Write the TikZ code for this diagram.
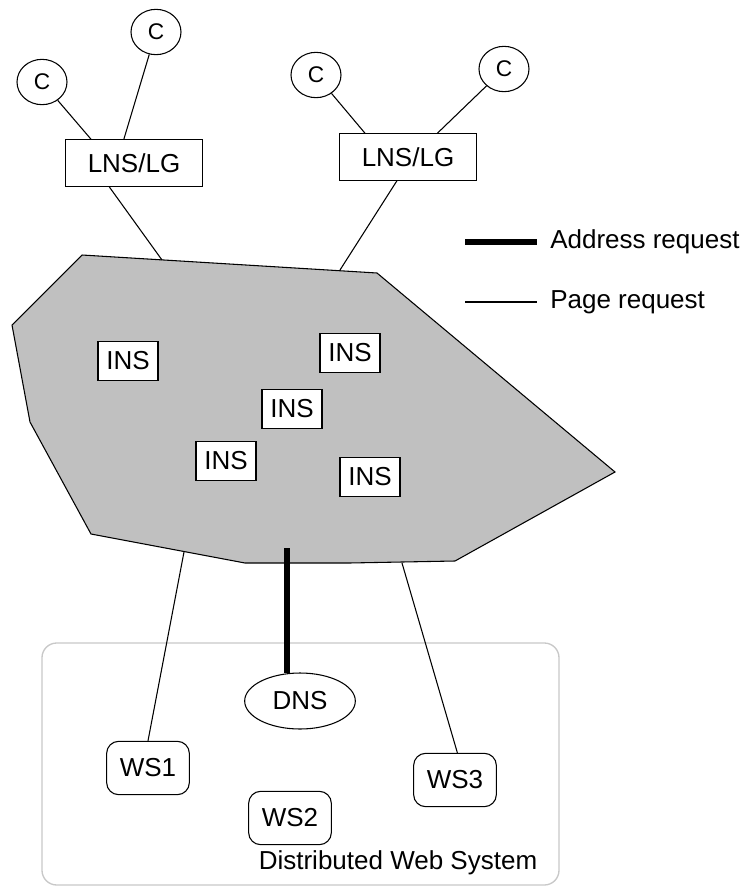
\documentclass[tikz,border=0pt]{standalone}
\usepackage{fontspec}
\setmainfont{Liberation Sans}
\usetikzlibrary{shapes.geometric}
\definecolor{cloudgray}{RGB}{192,192,192}
\definecolor{framegray}{RGB}{200,200,200}
\begin{document}
\begin{tikzpicture}[x=0.75pt,y=-0.75pt,
  font=\fontsize{19.5}{23}\selectfont,
  thin line/.style={line width=0.8pt},
  thick line/.style={line width=3.9pt},
  client/.style={ellipse,draw,thin line,minimum width=37.5pt,minimum height=34pt,inner sep=0pt,font=\fontsize{17}{20}\selectfont},
  lns/.style={rectangle,draw,thin line,minimum width=103pt,minimum height=35pt,inner sep=0pt},
  ins/.style={rectangle,draw,thin line,fill=white,minimum width=45pt,minimum height=29pt,inner sep=0pt},
  dns/.style={ellipse,draw,thin line,minimum width=83pt,minimum height=42pt,inner sep=0pt},
  ws/.style={rectangle,rounded corners=9pt,draw,thin line,minimum width=62pt,minimum height=40pt,inner sep=0pt},
  label/.style={inner sep=0pt}
]
\useasboundingbox (0,0) rectangle (742,886);

% Internet cloud polygon
\draw[thin line,fill=cloudgray] (82,255) -- (377,273) -- (615,472) -- (455,561)
  -- (349,563) -- (245,563) -- (91,534) -- (30,422) -- (12,325) -- cycle;

% Distributed Web System frame
\draw[framegray,line width=1pt,rounded corners=11pt] (42,643) rectangle (559,885);
\node[label] (dws) at (398,863) {Distributed Web System};

% Clients and LNS/LG
\node[client] (c1) at (42,82) {C};
\node[client] (c2) at (156,32) {C};
\node[client] (c3) at (316,75) {C};
\node[client] (c4) at (504,69) {C};
\node[lns] (l1) at (134,163) {LNS/LG};
\node[lns] (l2) at (408,157) {LNS/LG};

% INS boxes
\node[ins] (i1) at (128,361) {INS};
\node[ins] (i2) at (350,353) {INS};
\node[ins] (i3) at (292,409) {INS};
\node[ins] (i4) at (226,461) {INS};
\node[ins] (i5) at (370,477) {INS};

% Web system nodes
\node[dns] (dns) at (300,701) {DNS};
\node[ws] (ws1) at (148,768) {WS1};
\node[ws] (ws2) at (290,818) {WS2};
\node[ws] (ws3) at (455,780) {WS3};

% Points on the cloud border
\coordinate (p1) at (162,260);
\coordinate (p2) at (340,270);
\coordinate (p3) at (184,552);
\coordinate (p4) at (402,563);
\coordinate (p5) at (287,548);

% Connectors
\draw[thin line] (c1) -- (l1.151);
\draw[thin line] (c2) -- (l1.113);
\draw[thin line] (l1.224) -- (p1);
\draw[thin line] (c3) -- (l2.151);
\draw[thin line] (c4) -- (l2.39);
\draw[thin line] (l2.245) -- (p2);
\draw[thin line] (p3) -- (ws1.north);
\draw[thin line] (p4) -- (ws3.85);
\draw[thick line] (p5) -- (p5 |- dns.115);

% Legend
\coordinate (la) at (465,242);
\coordinate (lb) at (465,302);
\node[label,anchor=west,inner xsep=9.75pt] (lega) at (537,242) {Address request};
\node[label,anchor=west,inner xsep=9.75pt] (legb) at (537,302) {Page request};
\draw[thick line] (la) -- (lega.west);
\draw[thin line] (lb) -- (legb.west);
\end{tikzpicture}
\end{document}
